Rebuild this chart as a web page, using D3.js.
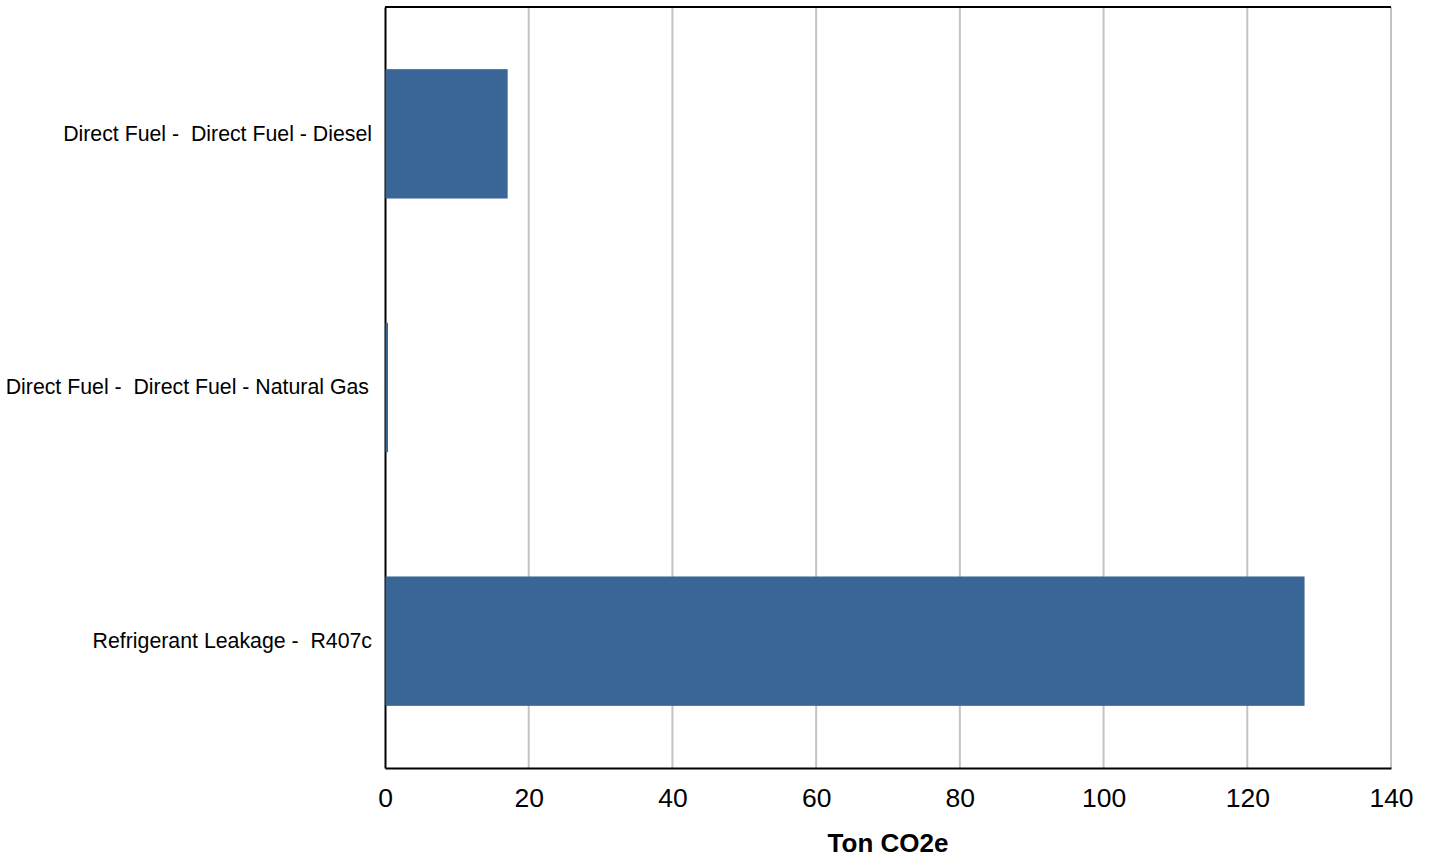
<!DOCTYPE html>
<html>
<head>
<meta charset="utf-8">
<script src="https://cdn.jsdelivr.net/npm/d3@7"></script>
<style>
  body { margin: 0; background: #fff; }
  text { font-family: "Liberation Sans", Arial, sans-serif; }
</style>
</head>
<body>
<div id="chart"></div>
<script>
// data
var categories = ["Direct Fuel -  Direct Fuel - Diesel", "Direct Fuel -  Direct Fuel - Natural Gas", "Refrigerant Leakage -  R407c"];
var values = [17.0, 0.35, 127.9];
var xTicks = [0, 20, 40, 60, 80, 100, 120, 140];

var width = 1432, height = 858;
var margin = { left: 385, right: 41, top: 7, bottom: 90 };

var svg = d3.select("#chart").append("svg")
    .attr("width", width)
    .attr("height", height);

var x = d3.scaleLinear()
    .domain([0, 140])
    .range([margin.left, width - margin.right]);

var y = d3.scaleBand()
    .domain(categories)
    .range([margin.top, height - margin.bottom])
    .paddingInner(0.49)
    .paddingOuter(0.245);

// gridlines
svg.append("g")
    .selectAll("line")
    .data(xTicks.slice(1))
    .enter().append("line")
    .attr("x1", d => x(d)).attr("x2", d => x(d))
    .attr("y1", margin.top).attr("y2", height - margin.bottom)
    .attr("stroke", "#c3c3c3")
    .attr("stroke-width", 2);

// top border
svg.append("line")
    .attr("x1", x(0)).attr("x2", x(140))
    .attr("y1", margin.top).attr("y2", margin.top)
    .attr("stroke", "#000").attr("stroke-width", 2);

// x axis
var xAxis = svg.append("g")
    .attr("transform", "translate(0," + (height - margin.bottom) + ")")
    .call(d3.axisBottom(x).tickValues(xTicks).tickSize(0).tickPadding(20));
xAxis.select(".domain").attr("stroke", "#000").attr("stroke-width", 2);
xAxis.selectAll("text")
    .attr("font-size", "26.5px")
    .attr("fill", "#000")
    .style("font-family", "'Liberation Sans', Arial, sans-serif");

// y axis
var yAxis = svg.append("g")
    .attr("transform", "translate(" + margin.left + ",0)")
    .call(d3.axisLeft(y).tickSize(0).tickPadding(13));
yAxis.select(".domain").attr("stroke", "#000").attr("stroke-width", 2);
yAxis.selectAll("text")
    .attr("font-size", "21.3px")
    .attr("fill", "#000")
    .attr("dx", (d, i) => i == 1 ? -3 : 0)
    .style("white-space", "pre")
    .style("font-family", "'Liberation Sans', Arial, sans-serif");

// bars (drawn after the axis so the tiny one shows next to it)
svg.append("g")
    .selectAll("rect")
    .data(values)
    .enter().append("rect")
    .attr("x", x(0) + 0.5)
    .attr("y", (d, i) => y(categories[i]))
    .attr("width", d => x(d) - x(0))
    .attr("height", y.bandwidth())
    .attr("fill", "#3a6697");

// axis title
svg.append("text")
    .attr("x", (x(0) + x(140)) / 2)
    .attr("y", 852)
    .attr("text-anchor", "middle")
    .attr("font-size", "26px")
    .attr("font-weight", "bold")
    .text("Ton CO2e");
</script>
</body>
</html>
